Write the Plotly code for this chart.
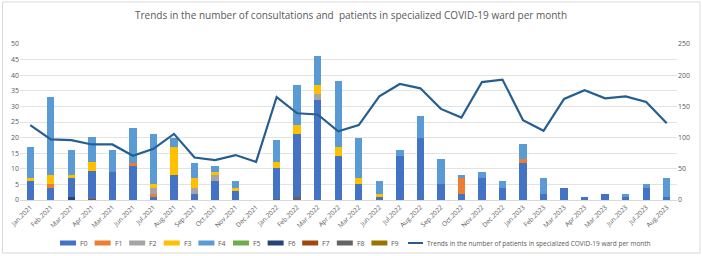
import plotly.graph_objects as go

months = ["Jan.2021", "Feb.2021", "Mar.2021", "Apr.2021", "Mar.2021", "Jun.2021", "Jul.2021",
          "Aug.2021", "Sep.2021", "Oct.2021", "Nov.2021", "Dec.2021", "Jan.2022", "Feb.2022",
          "Mar.2022", "Apr.2022", "Mar.2022", "Jun.2022", "Jul.2022", "Aug.2022", "Sep.2022",
          "Oct.2022", "Nov.2022", "Dec.2022", "Jan.2023", "Feb.2023", "Mar.2023", "Apr.2023",
          "Mar.2023", "Jun.2023", "Jul.2023", "Aug.2023"]

F0 = [6, 4, 6, 9, 9, 11, 1, 8, 2, 6, 3, 0, 10, 20, 32, 14, 5, 1, 14, 20, 5, 2, 7, 4, 12, 2, 4, 1, 2, 1, 4, 1]
F1 = [0, 1, 0, 0, 0, 1, 1, 0, 0, 0, 0, 0, 0, 0, 0, 0, 0, 0, 0, 0, 0, 5, 0, 0, 1, 0, 0, 0, 0, 0, 0, 0]
F2 = [0, 0, 0, 0, 0, 0, 2, 0, 2, 2, 0, 0, 0, 0, 2, 0, 0, 0, 0, 0, 0, 0, 0, 0, 0, 0, 0, 0, 0, 0, 0, 0]
F3 = [1, 3, 1, 3, 0, 0, 1, 9, 3, 1, 1, 0, 2, 3, 3, 3, 2, 1, 0, 0, 0, 0, 0, 0, 0, 0, 0, 0, 0, 0, 0, 0]
F4 = [10, 25, 8, 8, 7, 11, 16, 3, 5, 2, 2, 0, 7, 13, 9, 21, 13, 4, 2, 7, 8, 1, 2, 2, 5, 5, 0, 0, 0, 1, 1, 6]
F5 = [0] * 32
F6 = [0, 0, 1, 0, 0, 0, 0, 0, 0, 0, 0, 0, 0, 0, 0, 0, 0, 0, 0, 0, 0, 0, 0, 0, 0, 0, 0, 0, 0, 0, 0, 0]
F7 = [0, 0, 0, 0.3, 0, 0, 0, 0, 0, 0, 0, 0, 0, 0, 0, 0, 0, 0, 0, 0, 0, 0, 0, 0, 0, 0, 0, 0, 0, 0, 0, 0]
F8 = [0, 0, 0, 0, 0, 0, 0, 0, 0, 0, 0, 0, 0.3, 1, 0, 0, 0, 0, 0, 0, 0, 0, 0, 0, 0, 0, 0, 0, 0, 0, 0, 0]
F9 = [0] * 32
patients = [120, 97, 96, 89, 89, 71, 82, 106, 68, 64, 72, 61, 165, 139, 137, 110, 120, 166, 186, 179,
            146, 132, 189, 193, 128, 111, 162, 176, 163, 166, 157, 123]

line_name = "Trends in the number of patients in specialized COVID-19 ward per month"
x = list(range(len(months)))

series = [("F0", F0, "#4472C4"), ("F1", F1, "#ED7D31"), ("F2", F2, "#A5A5A5"),
          ("F3", F3, "#FFC000"), ("F4", F4, "#5B9BD5"), ("F5", F5, "#70AD47"),
          ("F6", F6, "#264478"), ("F7", F7, "#9E480E"), ("F8", F8, "#636363"),
          ("F9", F9, "#997300")]
line_color = "#255E91"

# minor series are drawn at the bottom of the stacks, as in the reference
order = [5, 6, 7, 8, 9, 0, 1, 2, 3, 4]

W, H = 702, 256
ML, MR, MT, MB = 20, 25, 44, 56
PW, PH = W - ML - MR, H - MT - MB


def px(xp):
    return (xp - ML) / PW


def py(yp):
    return (H - MB - yp) / PH


fig = go.Figure()
for i in order:
    name, vals, col = series[i]
    fig.add_trace(go.Bar(x=x, y=vals, name=name, marker_color=col, marker_line_width=0,
                         showlegend=False))
fig.add_trace(go.Scatter(x=x, y=patients, name=line_name, mode="lines",
                         line=dict(color=line_color, width=2.2), yaxis="y2", showlegend=False))

# legend drawn as a single row, like the reference
shapes = [dict(type="rect", xref="paper", yref="paper", x0=px(2.5), x1=px(700), y0=py(253), y1=py(2),
               line=dict(color="#D9D9D9", width=1), fillcolor="rgba(0,0,0,0)", layer="below")]
annotations = []
ly = 243
for k, (name, vals, col) in enumerate(series):
    x0 = 60 + k * 34.6
    shapes.append(dict(type="rect", xref="paper", yref="paper", x0=px(x0), x1=px(x0 + 16),
                       y0=py(ly + 2.5), y1=py(ly - 2.5), line=dict(width=0), fillcolor=col))
    annotations.append(dict(xref="paper", yref="paper", x=px(x0 + 18), y=py(ly), text=name,
                            showarrow=False, xanchor="left", yanchor="middle",
                            font=dict(size=7, color="#595959")))
shapes.append(dict(type="line", xref="paper", yref="paper", x0=px(408), x1=px(423),
                   y0=py(ly), y1=py(ly), line=dict(color=line_color, width=2)))
annotations.append(dict(xref="paper", yref="paper", x=px(425), y=py(ly), text=line_name,
                        showarrow=False, xanchor="left", yanchor="middle",
                        font=dict(size=6.5, color="#595959")))

fig.update_layout(
    width=W, height=H,
    margin=dict(l=ML, r=MR, t=MT, b=MB, autoexpand=False),
    paper_bgcolor="white", plot_bgcolor="white",
    barmode="stack", bargap=0.64, showlegend=False,
    font=dict(family="Open Sans", size=7, color="#595959"),
    title=dict(text="Trends in the number of consultations and  patients in specialized COVID-19 ward per month",
               x=0.5, xanchor="center", y=0.94, yanchor="middle",
               font=dict(size=10, color="#595959", family="Open Sans")),
    xaxis=dict(tickvals=x, ticktext=months, tickangle=-45, range=[-0.5, len(months) - 0.5],
               showgrid=False, showline=True, linecolor="#D9D9D9", ticks="",
               tickfont=dict(size=6.5, color="#595959")),
    yaxis=dict(range=[0, 50], dtick=5, showgrid=True, gridcolor="#E3E3E3", gridwidth=1,
               zeroline=False, tickfont=dict(size=7, color="#595959"), ticks=""),
    yaxis2=dict(range=[0, 250], dtick=50, overlaying="y", side="right", showgrid=False,
                zeroline=False, tickfont=dict(size=7, color="#595959"), ticks=""),
    shapes=shapes,
    annotations=annotations,
)

fig.write_html("out.html")
